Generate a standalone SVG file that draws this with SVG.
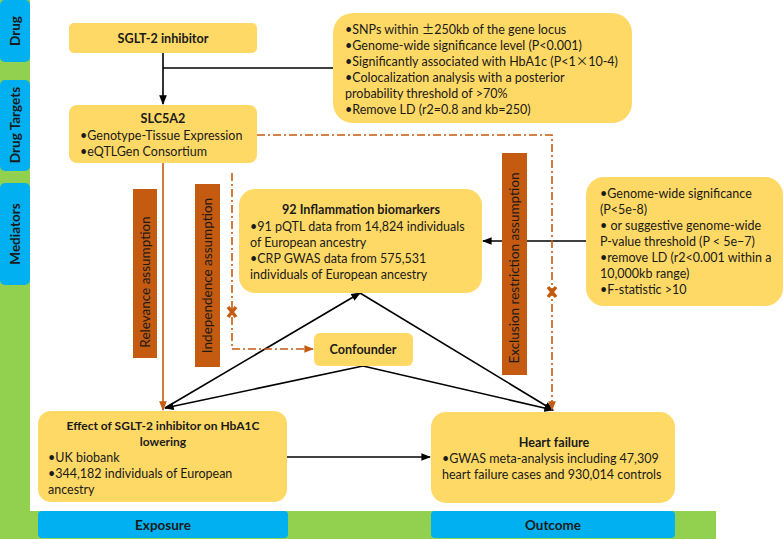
<svg xmlns="http://www.w3.org/2000/svg" width="783" height="539" viewBox="0 0 783 539">
<defs>
<style>
.box{fill:#FFD966}
.side{fill:#00B0F0}
.t{font-family:Lato,"Liberation Sans",sans-serif;font-size:12.5px;fill:#1a1a1a}
.s{font-size:13.5px}
.h{font-size:12.6px}
.b{font-weight:bold}
.c{text-anchor:middle}
.cjk{font-family:"Noto Sans CJK SC",sans-serif}
.lbl{fill:#C55A11}
.blk{stroke:#000;stroke-width:1.6;fill:none}
.org{stroke:#C55A11;stroke-width:1.6;fill:none}
.dd{stroke:#C55A11;stroke-width:1.6;fill:none;stroke-dasharray:8 3 2 3}
.x{stroke:#C55A11;stroke-width:3.5;fill:none}
</style>
<marker id="ab" viewBox="0 0 10 10" refX="9" refY="5" markerWidth="6" markerHeight="6" orient="auto"><path d="M0,1 L10,5 L0,9 z" fill="#000"/></marker>
<marker id="ao" viewBox="0 0 10 10" refX="9" refY="5" markerWidth="6" markerHeight="6" orient="auto"><path d="M0,1 L10,5 L0,9 z" fill="#C55A11"/></marker>
</defs>
<rect width="783" height="539" fill="#fff"/>
<g id="frame">
<rect x="0" y="0" width="30" height="539" fill="#92D050"/>
<rect x="0" y="511" width="716" height="28" fill="#92D050"/>
</g>
<g id="side-drug"><rect class="side" x="0" y="0" width="30" height="62" rx="5"/><text class="t s b c" transform="translate(20,31) rotate(-90)">Drug</text></g>
<g id="side-targets"><rect class="side" x="0" y="80" width="30" height="91" rx="5"/><text class="t s b c" transform="translate(20,125) rotate(-90)">Drug Targets</text></g>
<g id="side-mediators"><rect class="side" x="0" y="183" width="30" height="102" rx="5"/><text class="t s b c" transform="translate(20,234) rotate(-90)">Mediators</text></g>
<g id="exposure"><rect class="side" x="38" y="511" width="250" height="27" rx="4"/><text class="t s b c" x="163" y="530">Exposure</text></g>
<g id="outcome"><rect class="side" x="431" y="511" width="244" height="27" rx="4"/><text class="t s b c" x="553" y="530">Outcome</text></g>

<g id="connectors">
<line class="blk" x1="163" y1="53" x2="163" y2="104" marker-end="url(#ab)"/>
<line class="blk" x1="163" y1="68" x2="333" y2="68"/>
<line class="blk" x1="586" y1="241" x2="483" y2="241" marker-end="url(#ab)"/>
<line class="blk" x1="165" y1="408" x2="360" y2="293" marker-end="url(#ab)"/>
<line class="blk" x1="360" y1="293" x2="553" y2="410" marker-end="url(#ab)"/>
<line class="blk" x1="363" y1="366" x2="165" y2="408" marker-end="url(#ab)"/>
<line class="blk" x1="363" y1="366" x2="553" y2="410" marker-end="url(#ab)"/>
<line class="blk" x1="287" y1="457" x2="430" y2="457" marker-end="url(#ab)"/>
<line class="org" x1="163" y1="163" x2="163" y2="410" marker-end="url(#ao)"/>
<path class="dd" d="M257,135 H552 V410" marker-end="url(#ao)"/>
<path class="dd" d="M232,173 V349 H313" marker-end="url(#ao)"/>
<path class="x" d="M228,307 L236,317 M236,307 L228,317"/>
<path class="x" d="M548,287 L556,297 M556,287 L548,297"/>
</g>

<g id="relevance"><rect class="lbl" x="133" y="189" width="24" height="169"/><text class="t s" text-anchor="middle" transform="translate(150,282) rotate(-90)">Relevance assumption</text></g>
<g id="independence"><rect class="lbl" x="195" y="184" width="25" height="183"/><text class="t s" text-anchor="middle" transform="translate(212,275.5) rotate(-90)">Independence assumption</text></g>
<g id="exclusion"><rect class="lbl" x="502" y="153" width="25" height="222"/><text class="t s" text-anchor="middle" transform="translate(519,268) rotate(-90)">Exclusion restriction assumption</text></g>

<g id="sglt2"><rect class="box" x="69" y="23" width="188" height="30" rx="5"/><text class="t h b c" x="163" y="43">SGLT-2 inhibitor</text></g>
<g id="slc5a2"><rect class="box" x="69" y="105" width="188" height="58" rx="8"/>
<text class="t h b c" x="163" y="123">SLC5A2</text>
<text class="t" x="80" y="140">•Genotype-Tissue Expression</text>
<text class="t" x="80" y="156">•eQTLGen Consortium</text></g>
<g id="criteria-top"><rect class="box" x="333" y="13" width="299" height="110" rx="20"/>
<text class="t" x="345" y="34">•SNPs within <tspan class="cjk">±</tspan>250kb of the gene locus</text>
<text class="t" x="345" y="50">•Genome-wide significance level (P&lt;0.001)</text>
<text class="t" x="345" y="66">•Significantly associated with HbA1c (P&lt;1<tspan class="cjk">×</tspan>10-4)</text>
<text class="t" x="345" y="82">•Colocalization analysis with a posterior</text>
<text class="t" x="345" y="98">probability threshold of &gt;70%</text>
<text class="t" x="345" y="114">•Remove LD (r2=0.8 and kb=250)</text></g>
<g id="biomarkers"><rect class="box" x="239" y="189" width="243" height="104" rx="16"/>
<text class="t h b c" x="361" y="214">92 Inflammation biomarkers</text>
<text class="t" x="250" y="231">•91 pQTL data from 14,824 individuals</text>
<text class="t" x="250" y="247">of European ancestry</text>
<text class="t" x="250" y="263">•CRP GWAS data from 575,531</text>
<text class="t" x="250" y="279">individuals of European ancestry</text></g>
<g id="criteria-right"><rect class="box" x="586" y="177" width="197" height="129" rx="18"/>
<text class="t" x="600" y="198">•Genome-wide significance</text>
<text class="t" x="600" y="214">(P&lt;5e-8)</text>
<text class="t" x="600" y="230">• or suggestive genome-wide</text>
<text class="t" x="600" y="246">P-value threshold (P &lt; 5e−7)</text>
<text class="t" x="600" y="262">•remove LD (r2&lt;0.001 within a</text>
<text class="t" x="600" y="278">10,000kb range)</text>
<text class="t" x="600" y="294">•F-statistic &gt;10</text></g>
<g id="confounder"><rect class="box" x="314" y="333" width="99" height="33" rx="6"/><text class="t h b c" x="363" y="354">Confounder</text></g>
<g id="effect"><rect class="box" x="38" y="411" width="249" height="91" rx="13"/>
<text class="t b c" x="163" y="430" style="font-size:12px">Effect of SGLT-2 inhibitor on HbA1C</text>
<text class="t b c" x="163" y="446" style="font-size:12px">lowering</text>
<text class="t" x="48" y="462">•UK biobank</text>
<text class="t" x="48" y="478">•344,182 individuals of European</text>
<text class="t" x="48" y="494">ancestry</text></g>
<g id="heart"><rect class="box" x="431" y="412" width="244" height="91" rx="15"/>
<text class="t h b c" x="554" y="447">Heart failure</text>
<text class="t" x="442" y="463">•GWAS meta-analysis including 47,309</text>
<text class="t" x="442" y="479">heart failure cases and 930,014 controls</text></g>
</svg>
